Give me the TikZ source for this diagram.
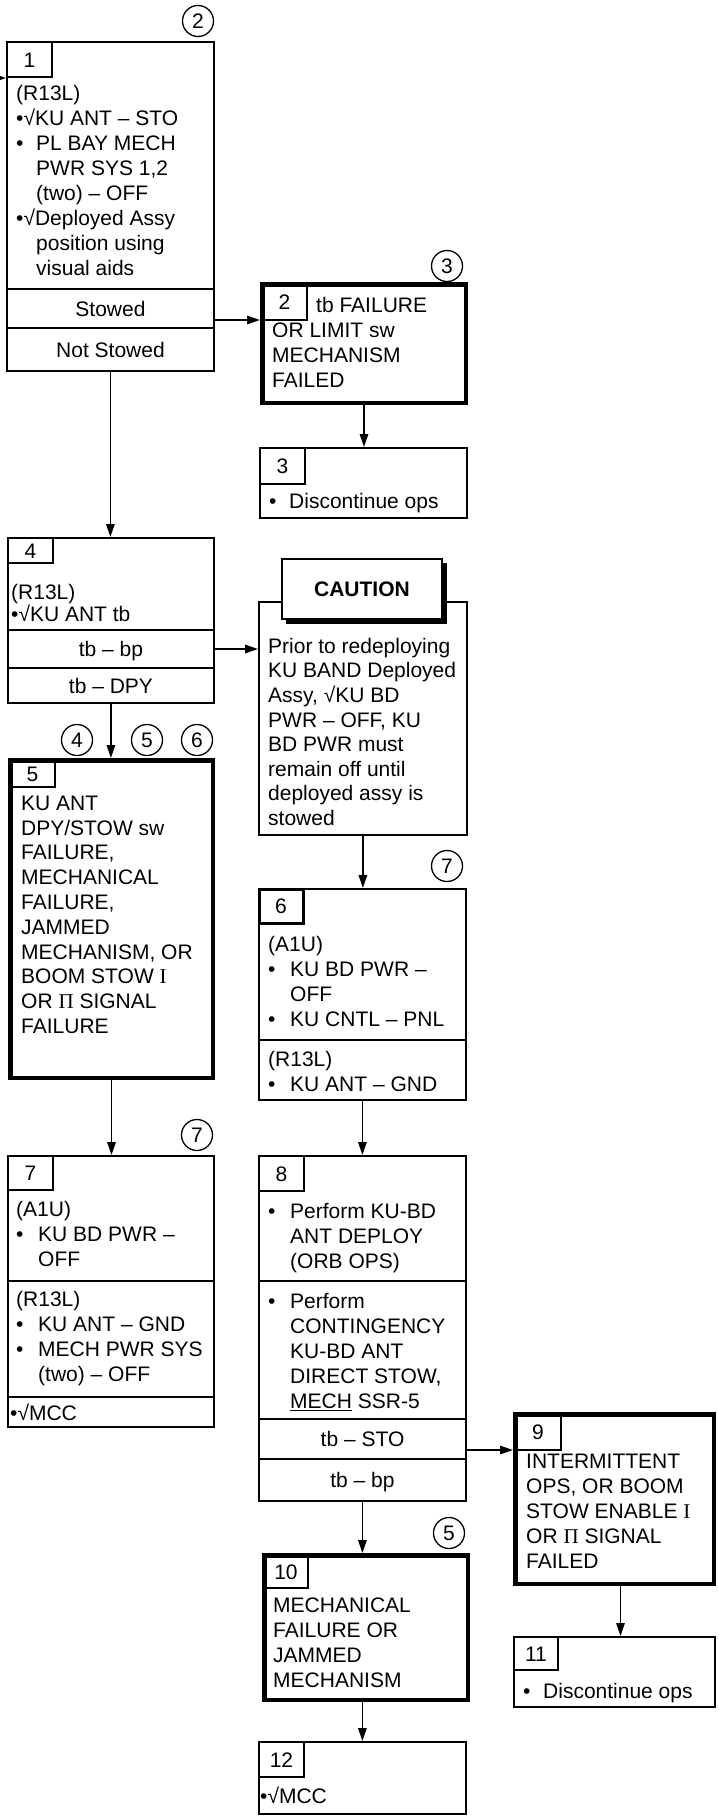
\documentclass[tikz,border=0pt]{standalone}
\usepackage{fontspec}
\setmainfont{Liberation Sans}
\newfontfamily\serf{Liberation Serif}
\usetikzlibrary{arrows.meta}
\newcommand\fs{\fontsize{21pt}{25pt}\selectfont}
\newcommand\ST{\rule{0pt}{20pt}}
\newcommand\bl{\makebox[20pt][l]{•}}
\newcommand\ind{\hspace*{20pt}}
\newcommand\blw{\makebox[22pt][l]{•}}
\newcommand\indw{\hspace*{22pt}}
\begin{document}
\begin{tikzpicture}[x=1pt,y=-1pt,
  thinb/.style={draw, line width=1.8pt, inner sep=0pt, anchor=north west},
  thickb/.style={draw, line width=4.5pt, inner sep=0pt, anchor=north west},
  tabn/.style={draw, line width=1.4pt, inner sep=0pt, outer sep=0pt, anchor=north west, font=\fs, text height=15pt, text depth=0pt},
  txt/.style={anchor=north west, inner sep=0pt, align=left, font=\fs},
  row/.style={inner sep=0pt, font=\fs, text height=15pt, text depth=0pt},
  div/.style={line width=1.8pt},
  arr/.style={-{Triangle[length=13pt,width=8.5pt]}, line width=1.5pt},
  num/.style={draw, circle, line width=1.3pt, minimum size=31pt, inner sep=0pt, font=\fs, text height=15pt, text depth=0pt}
]
\fill[white] (0,0) rectangle (718,1818);
\useasboundingbox (0,0) rectangle (718,1818);

% ---------- Box 1
\node[thinb, minimum width=207pt, minimum height=329pt] (b1) at (6,41) {};
\node[tabn, minimum width=45pt, minimum height=35pt] (t1) at (7,42) {1};
\draw[div] (7,289) -- (214,289);
\draw[div] (7,328) -- (214,328);
\node[txt] (b1x) at (16,80) {\ST(R13L)\\•√KU ANT – STO\\\bl PL BAY MECH\\\ind PWR SYS 1,2\\\ind (two) – OFF\\•√Deployed Assy\\\ind position using\\\ind visual aids};
\node[row] (stow) at (110.5,308.5) {Stowed};
\node[row] (nstow) at (110.5,350) {Not Stowed};
\node[num] (c2) at (198,21) {2};
\coordinate (in1) at (0,78);
\draw[arr] (in1) -- (b1.west |- in1);

% ---------- Box 2
\node[thickb, minimum width=203.5pt, minimum height=118.5pt] (b2) at (260,282) {};
\node[tabn, minimum width=45pt, minimum height=36pt] (t2) at (262,284) {2};
\node[txt] (b2x) at (272,292) {\ST\makebox[44pt][l]{}tb FAILURE\\OR LIMIT sw\\MECHANISM\\FAILED};
\node[num] (c3) at (447,266) {3};
\draw[arr] (b1.east |- t2.south) -- (b2.west |- t2.south);

% ---------- Box 3
\node[thinb, minimum width=207pt, minimum height=70pt] (b3) at (259,447) {};
\node[tabn, minimum width=45pt, minimum height=36pt] (t3) at (260,448) {3};
\node[txt] (b3x) at (269,488) {\ST\bl Discontinue ops};
\draw[arr] (b2.south) -- (b2.south |- b3.north);

% ---------- Box 4
\node[thinb, minimum width=206pt, minimum height=165pt] (b4) at (7,537) {};
\node[tabn, minimum width=45pt, minimum height=25pt] (t4) at (8,538) {4};
\node[txt, font=\fontsize{21pt}{22pt}\selectfont] (b4x) at (11,579) {\ST(R13L)\\•√KU ANT tb};
\draw[div] (8,630) -- (214,630);
\draw[div] (8,668) -- (214,668);
\node[row] (tbbp) at (111,649) {tb – bp};
\node[row] (tbdpy) at (111,686) {tb – DPY};
\draw[arr] (b1.south) -- (b1.south |- b4.north);

% ---------- Circles 4 5 6
\node[num] (c4) at (77,740) {4};
\node[num] (c5) at (147,740) {5};
\node[num] (c6) at (197,740) {6};

% ---------- Box 5
\node[thickb, minimum width=202.5pt, minimum height=317.5pt] (b5) at (8,758) {};
\node[tabn, minimum width=45pt, minimum height=27pt] (t5) at (10,760) {5};
\node[txt, font=\fontsize{21pt}{24.8pt}\selectfont] (b5x) at (21,790) {\ST KU ANT\\DPY/STOW sw\\FAILURE,\\MECHANICAL\\FAILURE,\\JAMMED\\MECHANISM, OR\\BOOM STOW {\serf I}\\OR {\serf Π} SIGNAL\\FAILURE};
\draw[arr] (b4.south) -- (b4.south |- b5.north);

% ---------- Caution
\node[thinb, minimum width=208pt, minimum height=233pt] (cau) at (258,601) {};
\node[fill=black, inner sep=0pt, outer sep=0pt, anchor=north west, minimum width=161pt, minimum height=61pt] (csh) at (286,563) {};
\node[draw, fill=white, line width=2pt, inner sep=0pt, anchor=north west, minimum width=160pt, minimum height=60pt, font=\fs\bfseries, text height=15pt, text depth=0pt] (ctab) at (281,558) {CAUTION};
\node[txt, font=\fontsize{21pt}{24.6pt}\selectfont] (caux) at (268,633) {\ST Prior to redeploying\\KU BAND Deployed\\Assy, √KU BD\\PWR – OFF, KU\\BD PWR must\\remain off until\\deployed assy is\\stowed};
\draw[arr] (b4.east |- tbbp) -- (cau.west |- tbbp);

% ---------- Box 6
\node[num] (c7a) at (447,866) {7};
\node[thinb, minimum width=207pt, minimum height=211pt] (b6) at (258,888) {};
\node[tabn, line width=3pt, minimum width=44pt, minimum height=34pt] (t6) at (259,889) {6};
\node[txt] (b6x) at (268,931) {\ST(A1U)\\\blw KU BD PWR –\\\indw OFF\\\blw KU CNTL – PNL};
\draw[div] (259,1040) -- (466,1040);
\node[txt] (b6y) at (268,1046) {\ST(R13L)\\\blw KU ANT – GND};
\draw[arr] (cau.south) -- (cau.south |- b6.north);

% ---------- Box 7
\node[num] (c7b) at (197,1135) {7};
\node[thinb, minimum width=206pt, minimum height=271pt] (b7) at (7,1155) {};
\node[tabn, minimum width=45pt, minimum height=34pt] (t7) at (8,1156) {7};
\node[txt] (b7x) at (16,1196) {\ST(A1U)\\\blw KU BD PWR –\\\indw OFF};
\draw[div] (8,1281) -- (214,1281);
\node[txt] (b7y) at (16,1286) {\ST(R13L)\\\blw KU ANT – GND\\\blw MECH PWR SYS\\\indw (two) – OFF};
\draw[div] (8,1397) -- (214,1397);
\node[txt] (b7z) at (10,1400) {\ST•√MCC};
\draw[arr] (b5.south) -- (b5.south |- b7.north);

% ---------- Box 8
\node[thinb, minimum width=207pt, minimum height=345pt] (b8) at (258,1155) {};
\node[tabn, minimum width=45pt, minimum height=35pt] (t8) at (259,1156) {8};
\node[txt] (b8x) at (268,1198) {\ST\blw Perform KU-BD\\\indw ANT DEPLOY\\\indw (ORB OPS)};
\draw[div] (259,1281) -- (466,1281);
\node[txt] (b8y) at (268,1288) {\ST\blw Perform\\\indw CONTINGENCY\\\indw KU-BD ANT\\\indw DIRECT STOW,\\\indw \underline{MECH} SSR-5};
\draw[div] (259,1419) -- (466,1419);
\draw[div] (259,1459) -- (466,1459);
\node[row] (tbsto) at (362.5,1439) {tb – STO};
\node[row] (tbbp2) at (362.5,1480) {tb – bp};
\draw[arr] (b6.south) -- (b6.south |- b8.north);

% ---------- Box 9
\node[thickb, minimum width=198.5pt, minimum height=169.5pt] (b9) at (513,1412) {};
\node[tabn, minimum width=46pt, minimum height=36pt] (t9) at (515,1414) {9};
\node[txt] (b9x) at (526,1448) {\ST INTERMITTENT\\OPS, OR BOOM\\STOW ENABLE {\serf I}\\OR {\serf Π} SIGNAL\\FAILED};
\draw[arr] (b8.east |- t9.south) -- (b9.west |- t9.south);

% ---------- Box 11
\node[thinb, minimum width=201pt, minimum height=70pt] (b11) at (513,1636) {};
\node[tabn, minimum width=44pt, minimum height=33pt] (t11) at (514,1637) {11};
\node[txt] (b11x) at (523,1678) {\ST\bl Discontinue ops};
\draw[arr] ([xshift=6pt]b9.south) -- ([xshift=6pt]b9.south |- b11.north);

% ---------- Box 10
\node[num] (c5b) at (449,1533) {5};
\node[thickb, minimum width=203.5pt, minimum height=144.5pt] (b10) at (262,1553) {};
\node[tabn, minimum width=44pt, minimum height=33pt] (t10) at (264,1555) {10};
\node[txt] (b10x) at (273,1592) {\ST MECHANICAL\\FAILURE OR\\JAMMED\\MECHANISM};
\draw[arr] (b8.south) -- (b8.south |- b10.north);

% ---------- Box 12
\node[thinb, minimum width=207pt, minimum height=72pt] (b12) at (258,1741) {};
\node[tabn, minimum width=45pt, minimum height=35pt] (t12) at (259,1742) {12};
\node[txt] (b12x) at (260,1783) {\ST•√MCC};
\draw[arr] (b12.north |- b10.south) -- (b12.north);
\end{tikzpicture}
\end{document}
